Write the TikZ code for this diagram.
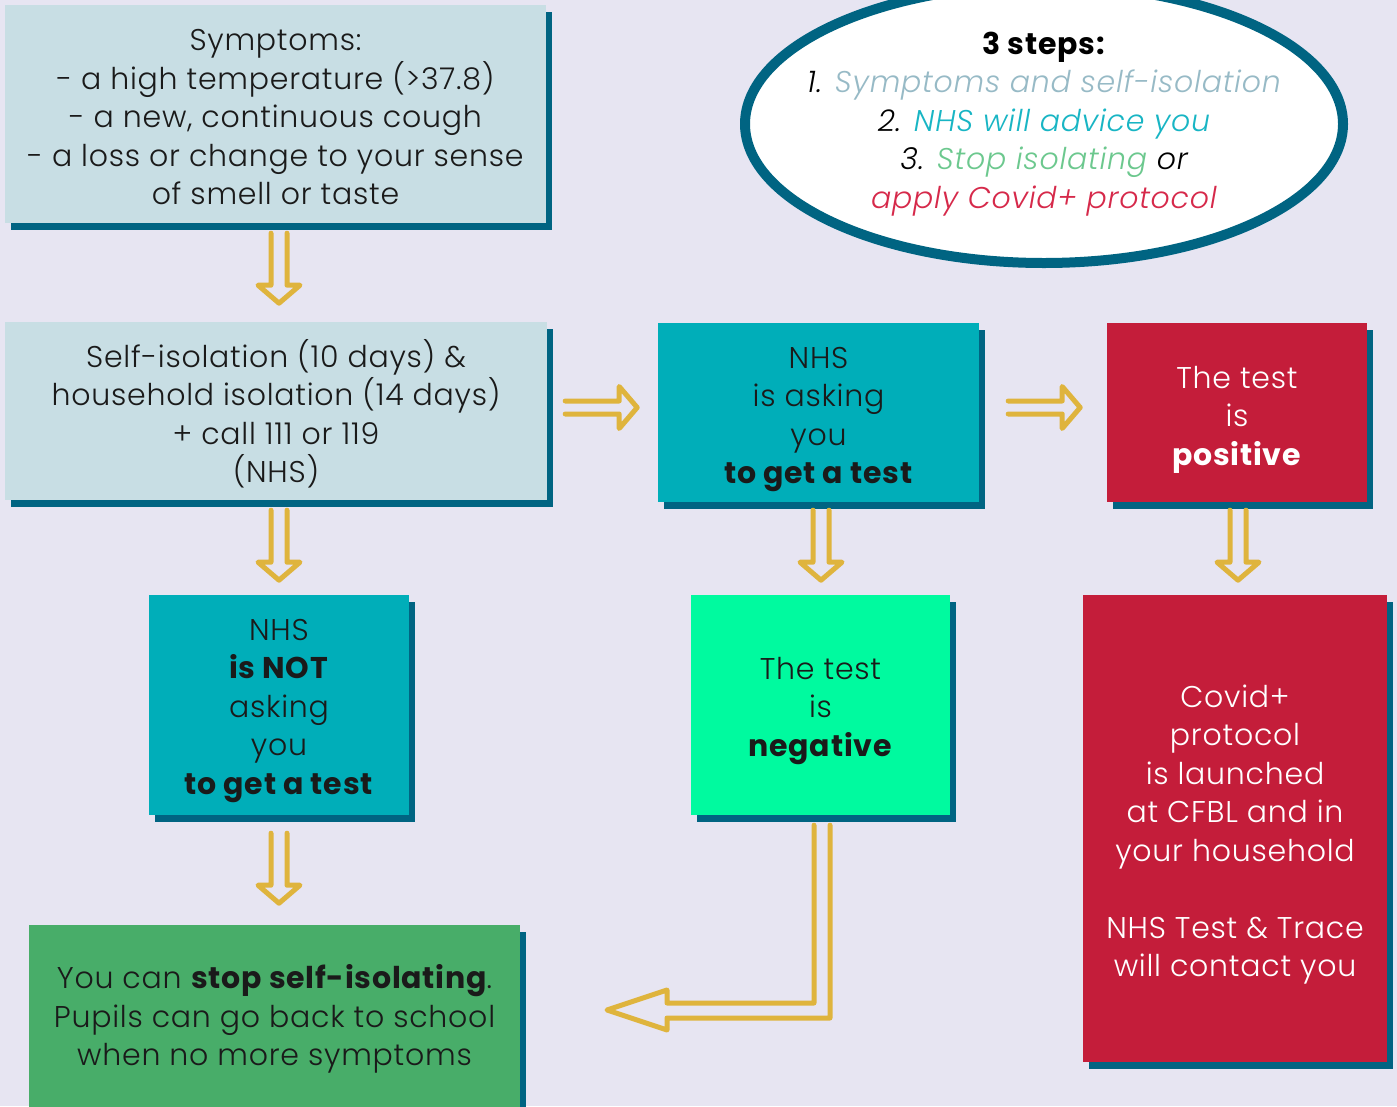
\documentclass[tikz,border=0pt]{standalone}
\usepackage{fontspec}
\setmainfont{Poppins}[UprightFont=* Light, ItalicFont=* Light Italic, BoldFont=* Bold, LetterSpace=2.5]
\usetikzlibrary{shapes.geometric,shadows,calc}
\definecolor{bg}{HTML}{E7E5F2}
\definecolor{lightbox}{HTML}{C8DEE4}
\definecolor{shadowc}{HTML}{006482}
\definecolor{tealbox}{HTML}{00AEB9}
\definecolor{redbox}{HTML}{C41D3A}
\definecolor{negbox}{HTML}{00FA9F}
\definecolor{greenbox}{HTML}{48AD69}
\definecolor{gold}{HTML}{DFB43D}
\definecolor{txt}{HTML}{1A1A1A}
\definecolor{cone}{HTML}{97BAC6}
\definecolor{ctwo}{HTML}{18B5C4}
\definecolor{cthree}{HTML}{6CC88E}
\definecolor{cfour}{HTML}{D6294A}
\begin{document}
\begin{tikzpicture}[x=1pt,y=-1pt,
  box/.style={rectangle, inner sep=0pt,
    drop shadow={shadow xshift=6pt, shadow yshift=-7pt, fill=shadowc, opacity=1}},
  boxtext/.style={inner sep=0pt, align=center, text=txt,
    font=\fontsize{30}{38.5}\selectfont},
  harrow/.style={draw=gold, line width=5pt, line join=round, line cap=round},
  downarr/.pic={\draw[harrow] (-8,0) -- (-8,52) -- (-21,52) -- (0,70) -- (21,52) -- (8,52) -- (8,0);},
  rightarr/.pic={\draw[harrow] (0,-6.5) -- (54,-6.5) -- (54,-21) -- (72,0) -- (54,21) -- (54,6.5) -- (0,6.5);}
]
\useasboundingbox (0,0) rectangle (1397,1106);
\fill[bg] (0,0) rectangle (1397,1106);

\node[box, fill=lightbox, minimum width=541pt, minimum height=218pt] (s1) at (275.5,114) {};
\node[boxtext] (t1) at ($(s1.center)+(0,3.5)$)
  {Symptoms:\\- a high temperature (>37.8)\\- a new, continuous cough\\- a loss or change to your sense\\of smell or taste};
\node[box, fill=lightbox, minimum width=542pt, minimum height=178pt] (s2) at (276,411) {};
\node[boxtext] (t2) at ($(s2.center)+(0,3)$)
  {Self-isolation (10 days) \&\\household isolation (14 days)\\+ call 111 or 119\\(NHS)};
\node[box, fill=tealbox, minimum width=321pt, minimum height=179pt] (s3) at (818.5,412.5) {};
\node[boxtext] (t3) at ($(s3.center)+(0,7)$)
  {NHS\\is asking\\you\\\textbf{to get a test}};
\node[box, fill=redbox, minimum width=260pt, minimum height=179pt] (s4) at (1237,412.5) {};
\node[boxtext, text=white] (t4) at ($(s4.center)+(0,7)$)
  {The test\\is\\\textbf{positive}};
\node[box, fill=tealbox, minimum width=260pt, minimum height=220pt] (s5) at (279,705) {};
\node[boxtext] (t5) at ($(s5.center)+(0,6)$)
  {NHS\\\textbf{is NOT}\\asking\\you\\\textbf{to get a test}};
\node[box, fill=negbox, minimum width=259pt, minimum height=220pt] (s6) at (820.5,705) {};
\node[boxtext] (t6) at ($(s6.center)+(0,6)$)
  {The test\\is\\\textbf{negative}};
\node[box, fill=redbox, minimum width=304pt, minimum height=467pt] (s7) at (1235,828.5) {};
\node[boxtext, text=white] (t7) at ($(s7.center)+(0,6)$)
  {Covid+\\protocol\\is launched\\at CFBL and in\\your household\\[38.5pt]NHS Test \& Trace\\will contact you};
\node[box, fill=greenbox, minimum width=491pt, minimum height=182pt] (s8) at (274.5,1016) {};
\node[boxtext] (t8) at ($(s8.center)+(0,3)$)
  {You can \textbf{stop self-isolating}.\\Pupils can go back to school\\when no more symptoms};

\node[ellipse, draw=shadowc, line width=10pt, fill=white, minimum width=598pt, minimum height=278pt,
  inner sep=0pt] (steps) at (1044,124) {};
\node[boxtext, text=black] (st) at ($(steps.center)+(0,0)$)
  {\textbf{3 steps:}\\
   \itshape 1. {\color{cone}Symptoms and self-isolation}\\
   \itshape 2. {\color{ctwo}NHS will advice you}\\
   \itshape 3. {\color{cthree}Stop isolating} or\\
   \itshape {\color{cfour}apply Covid+ protocol}};

\pic at ($(s1.south)+(3.5,10)$) {downarr};
\pic at ($(s2.south)+(3,10)$) {downarr};
\pic at ($(s3.south)+(2.5,8)$) {downarr};
\pic at ($(s4.south)+(1,8)$) {downarr};
\pic at ($(s5.south)+(0,18)$) {downarr};
\pic at ($(s2.east)+(18,-3.5)$) {rightarr};
\pic at ($(s3.east)+(29,-5)$) {rightarr};
\coordinate (la) at ($(s6.south)+(-6.5,10)$);
\coordinate (lb) at ($(s6.south)+(9.5,10)$);
\draw[harrow] (la) -- (la |- 0,1003) -- (667,1003) -- (667,990) -- (607,1010) -- (667,1030) -- (667,1018) -- (lb |- 0,1018) -- (lb);
\end{tikzpicture}
\end{document}
